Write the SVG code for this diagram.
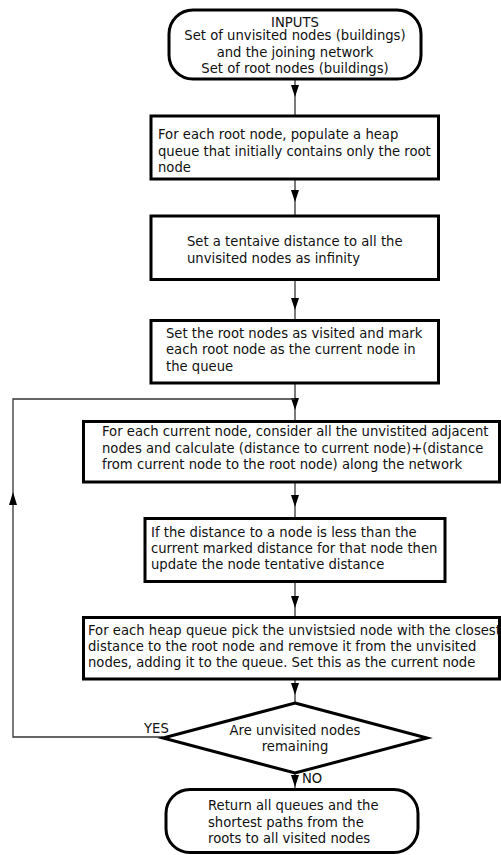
<svg xmlns="http://www.w3.org/2000/svg" width="501" height="855" viewBox="0 0 501 855">
<style>
.box{fill:#fff;stroke:#000;stroke-width:3}
.t{font-family:"DejaVu Sans",Verdana,sans-serif;font-size:13.2px;fill:#111}
.c{text-anchor:middle}
.ln{fill:none;stroke:#333;stroke-width:1.3}
.ah{fill:#000}
</style>
<defs>
<path id="ad" d="M-4,-12 L4,-12 L0,0 Z"/>
</defs>
<rect width="501" height="855" fill="#fff"/>
<g id="connectors">
<line class="ln" x1="295" y1="79" x2="295" y2="115"/>
<use href="#ad" class="ah" x="295" y="97"/>
<line class="ln" x1="295" y1="179" x2="295" y2="215"/>
<use href="#ad" class="ah" x="295" y="202"/>
<line class="ln" x1="295" y1="280" x2="295" y2="320"/>
<use href="#ad" class="ah" x="295" y="310"/>
<line class="ln" x1="295" y1="383" x2="295" y2="421"/>
<use href="#ad" class="ah" x="295" y="410"/>
<line class="ln" x1="295" y1="482" x2="295" y2="518"/>
<use href="#ad" class="ah" x="295" y="507"/>
<line class="ln" x1="295" y1="582" x2="295" y2="617"/>
<use href="#ad" class="ah" x="295" y="608"/>
<line class="ln" x1="295" y1="679" x2="295" y2="703"/>
<use href="#ad" class="ah" x="295" y="695"/>
<line class="ln" x1="295" y1="773" x2="295" y2="789"/>
<use href="#ad" class="ah" x="295" y="787"/>
<polyline class="ln" points="163,737 13,737 13,399 295,399"/>
<path class="ah" d="M9,505 L17,505 L13,492 Z"/>
<text class="t" x="144" y="733">YES</text>
<text class="t" x="302" y="783">NO</text>
</g>
<g id="n1">
<rect class="box" x="169" y="10" width="252" height="69" rx="24"/>
<text class="t c" x="295" y="26.5">INPUTS</text>
<text class="t c" x="295" y="40">Set of unvisited nodes (buildings)</text>
<text class="t c" x="295" y="56.5">and the joining network</text>
<text class="t c" x="295" y="73">Set of root nodes (buildings)</text>
</g>
<g id="n2">
<rect class="box" x="151" y="116" width="287.5" height="63"/>
<text class="t" x="158" y="139">For each root node, populate a heap</text>
<text class="t" x="158" y="155.7">queue that initially contains only the root</text>
<text class="t" x="158" y="172">node</text>
</g>
<g id="n3">
<rect class="box" x="151" y="216" width="287.5" height="63.5"/>
<text class="t" x="187" y="246">Set a tentaive distance to all the</text>
<text class="t" x="187" y="263.3">unvisited nodes as infinity</text>
</g>
<g id="n4">
<rect class="box" x="151" y="320.5" width="287.5" height="62.5"/>
<text class="t" x="166" y="337.7">Set the root nodes as visited and mark</text>
<text class="t" x="166" y="354.3">each root node as the current node in</text>
<text class="t" x="166" y="371">the queue</text>
</g>
<g id="n5">
<rect class="box" x="83.5" y="421.5" width="416" height="60.5"/>
<text class="t" x="102" y="436">For each current node, consider all the unvistited adjacent</text>
<text class="t" x="102" y="452.7">nodes and calculate (distance to current node)+(distance</text>
<text class="t" x="102" y="469.3">from current node to the root node) along the network</text>
</g>
<g id="n6">
<rect class="box" x="145" y="518.5" width="300" height="63"/>
<text class="t" x="151" y="536.7">If the distance to a node is less than the</text>
<text class="t" x="151" y="553.3">current marked distance for that node then</text>
<text class="t" x="151" y="569.3">update the node tentative distance</text>
</g>
<g id="n7">
<rect class="box" x="83.5" y="617.5" width="416" height="61.5"/>
<text class="t" x="88" y="635">For each heap queue pick the unvistsied node with the closest</text>
<text class="t" x="88" y="651">distance to the root node and remove it from the unvisited</text>
<text class="t" x="88" y="666.7">nodes, adding it to the queue. Set this as the current node</text>
</g>
<g id="n8">
<polygon class="box" points="295,703 427,738 295,773 163,738"/>
<text class="t c" x="295" y="735">Are unvisited nodes</text>
<text class="t c" x="295" y="750.7">remaining</text>
</g>
<g id="n9">
<rect class="box" x="166" y="789.5" width="252" height="63" rx="24"/>
<text class="t" x="208" y="810">Return all queues and the</text>
<text class="t" x="208" y="826.5">shortest paths from the</text>
<text class="t" x="208" y="843">roots to all visited nodes</text>
</g>
</svg>
